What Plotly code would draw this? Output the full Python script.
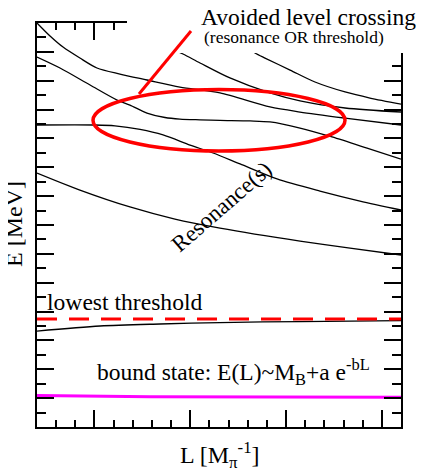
import plotly.graph_objects as go

# ---- data (schematic units: L along x, E along y) ----
L_a = [0, 0.68, 1.36, 2.24, 3.13, 4.33, 5.74, 7.46, 9.55, 12.16, 13.73, 16.08, 19]
E_a = [28, 27.1, 26.33, 25.57, 24.88, 24.46, 24.05, 23.56, 23.15, 22.18, 21.83, 21.41, 20.93]

L_b = [0, 1.2, 2.77, 4.18, 4.85, 5.74, 6.68, 7.46, 8.51, 9.55, 11.12, 12.16, 13.73, 15.4, 17.23, 19]
E_b = [25.64, 24.88, 23.7, 22.66, 22.31, 21.76, 21.45, 21.34, 21.29, 21.25, 21.21, 21.14, 20.72, 20.1, 19.33, 18.57]

L_c = [0, 3.03, 4.07, 5.38, 6.58, 7.99, 9.19, 10.6, 12.53, 14.77, 16.86, 19]
E_c = [20.93, 20.93, 20.87, 20.62, 20.24, 19.54, 18.99, 18.23, 17.19, 16.35, 15.66, 15.04]

L_d = [6.42, 7.62, 8.51, 10.07, 12.16, 13.73, 16.08, 19]
E_d = [26.61, 25.85, 25.23, 24.19, 23.15, 22.6, 22.11, 21.83]

L_e = [10.6, 11.38, 11.9, 13.21, 14.51, 16.08, 17.38, 19]
E_e = [26.61, 25.92, 25.57, 24.74, 23.91, 23.22, 22.8, 22.38]

L_f = [0, 2.24, 4.85, 7.2, 9.55, 13.73, 16.34, 19]
E_f = [17.6, 16.42, 15.25, 14.41, 13.79, 12.89, 12.4, 11.92]

L_g = [0, 3.29, 6.42, 9.55, 13.73, 19]
E_g = [6.65, 7.0, 7.14, 7.24, 7.31, 7.37]

L_thr = [0, 19]
E_thr = [7.48, 7.48]

L_bound = [0, 5.9, 19]
E_bound = [2.18, 2.09, 2.06]

x_range = [0, 19]
y_range = [0, 28]
x_major = [3, 8, 13, 18]

# ---- figure geometry (pixels) ----
OFF = 8  # page body margin
W, H = 424 - OFF, 473 - OFF
ML, MR, MT, MB = 37 - OFF, 23, 23 - OFF, 46
PW, PH = W - ML - MR, H - MT - MB
SERIF = "Liberation Serif, Times New Roman, serif"


def px(xp, yp):
    """window pixel position -> paper coords"""
    return (xp - OFF - ML) / PW, (H - MB - (yp - OFF)) / PH


def pdata(xp, yp):
    """window pixel position -> data coords"""
    ax, ay = px(xp, yp)
    return (ax * (x_range[1] - x_range[0]) + x_range[0],
            ay * (y_range[1] - y_range[0]) + y_range[0])


fig = go.Figure()
blk = dict(color="black", width=1.3, shape="spline", smoothing=0.8)
for Lx, Ey in [(L_a, E_a), (L_b, E_b), (L_c, E_c), (L_d, E_d), (L_e, E_e), (L_f, E_f), (L_g, E_g)]:
    fig.add_trace(go.Scatter(x=Lx, y=Ey, mode="lines", line=blk, showlegend=False, hoverinfo="skip"))

fig.add_trace(go.Scatter(x=L_thr, y=E_thr, mode="lines",
                         line=dict(color="#ff0000", width=3, dash="20px,12px"),
                         showlegend=False, hoverinfo="skip"))
fig.add_trace(go.Scatter(x=L_bound, y=E_bound, mode="lines",
                         line=dict(color="#ff00ff", width=3, shape="spline"),
                         showlegend=False, hoverinfo="skip"))

shapes = []
# white box hiding the top-right frame under the title
x0, y0 = px(127, 53)
shapes.append(dict(type="rect", xref="paper", yref="paper", x0=x0, x1=1.2, y0=y0, y1=1.2,
                   fillcolor="white", line=dict(width=0), layer="above"))
# ellipse
ex0, ey0 = pdata(93, 151)
ex1, ey1 = pdata(345, 89.5)
shapes.append(dict(type="circle", xref="x", yref="y", x0=ex0, x1=ex1, y0=ey0, y1=ey1,
                   line=dict(color="#ff0000", width=3.5), layer="above"))
# pointer
lx0, ly0 = pdata(139, 94)
lx1, ly1 = pdata(191, 31)
shapes.append(dict(type="line", xref="x", yref="y", x0=lx0, y0=ly0, x1=lx1, y1=ly1,
                   line=dict(color="#ff0000", width=3), layer="above"))

annotations = []


def ann(text, xp, yp, size, angle=0):
    ax, ay = px(xp, yp)
    annotations.append(dict(text=text, xref="paper", yref="paper", x=ax, y=ay,
                            xanchor="center", yanchor="middle", showarrow=False,
                            textangle=angle, font=dict(family=SERIF, size=size, color="black")))


ann("Avoided level crossing", 308, 17, 23.5)
ann("(resonance OR threshold)", 294, 37, 17.5)
ann("Resonance(s)", 222, 207, 23, -41)
ann("lowest threshold", 125, 302, 23.6)
ann("bound state: E(L)~M<sub>B</sub>+a e<sup>-bL</sup>", 233, 372, 23.5)
ann("E [MeV]", 14, 224, 24, -90)
ann("L [M<sub>π</sub><sup>-1</sup>]", 220, 455, 24)

fig.update_layout(
    width=W, height=H, margin=dict(l=ML, r=MR, t=MT, b=MB),
    paper_bgcolor="white", plot_bgcolor="white",
    shapes=shapes, annotations=annotations, showlegend=False,
)
fig.update_xaxes(range=x_range, showgrid=False, zeroline=False, showline=True, linecolor="black",
                 linewidth=2, mirror="ticks", ticks="inside", tickvals=x_major, ticklen=17,
                 tickwidth=1.6, tickcolor="black", showticklabels=False,
                 minor=dict(dtick=1, ticks="inside", ticklen=7, tickwidth=1.6, tickcolor="black", tick0=0))
fig.update_yaxes(range=y_range, showgrid=False, zeroline=False, showline=True, linecolor="black",
                 linewidth=2, mirror="ticks", ticks="inside", dtick=2, tick0=0, ticklen=17,
                 tickwidth=1.6, tickcolor="black", showticklabels=False,
                 minor=dict(dtick=1, ticks="inside", ticklen=9, tickwidth=1.6, tickcolor="black", tick0=0))

fig.write_html("out.html")
